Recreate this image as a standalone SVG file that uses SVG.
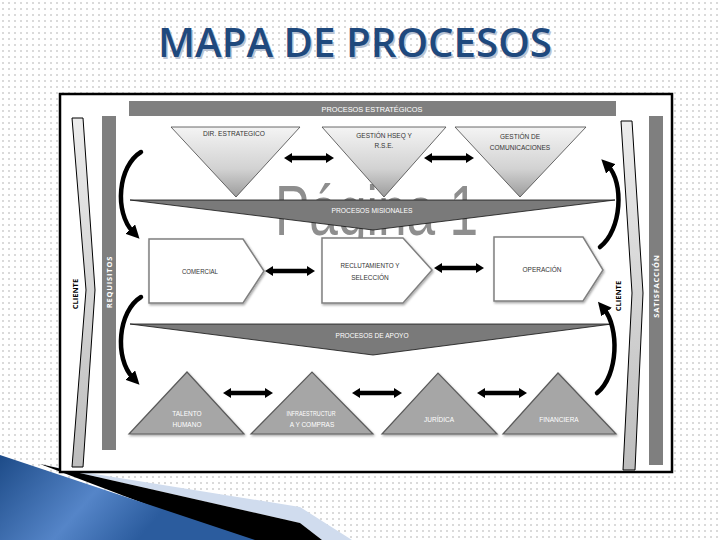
<svg xmlns="http://www.w3.org/2000/svg" width="720" height="540" viewBox="0 0 720 540">
<defs>
<pattern id="dots" width="6" height="6" patternUnits="userSpaceOnUse"><rect width="6" height="6" fill="#ffffff"/><circle cx="3" cy="3" r="0.7" fill="#9a9a9a"/></pattern>
<linearGradient id="tri" x1="0" y1="0" x2="0" y2="1"><stop offset="0" stop-color="#f4f4f4"/><stop offset="0.6" stop-color="#d2d2d2"/><stop offset="1" stop-color="#9c9c9c"/></linearGradient>
<linearGradient id="strip" x1="0" y1="0" x2="0" y2="1"><stop offset="0" stop-color="#ececec"/><stop offset="1" stop-color="#bdbdbd"/></linearGradient>
<linearGradient id="blue" gradientUnits="userSpaceOnUse" x1="0" y1="455" x2="120" y2="560"><stop offset="0" stop-color="#1d4b88"/><stop offset="0.6" stop-color="#5585c8"/><stop offset="1" stop-color="#2b5c9e"/></linearGradient>
<filter id="sh" x="-10%" y="-10%" width="130%" height="130%"><feDropShadow dx="1" dy="1.5" stdDeviation="1.2" flood-color="#000" flood-opacity="0.35"/></filter>
<path id="dbl" d="M0,5 L8,0 L8,2.8 L42,2.8 L42,0 L50,5 L42,10 L42,7.2 L8,7.2 L8,10 Z"/>
<marker id="ah" viewBox="0 0 10 10" refX="3" refY="5" markerWidth="3" markerHeight="3" orient="auto" markerUnits="strokeWidth"><path d="M0,0 L10,5 L0,10 Z" fill="#000"/></marker>
</defs>
<style>
.lbl{font-family:"Liberation Sans",Arial,sans-serif;font-size:6.5px;text-anchor:middle;}
.dk{fill:#333333;}
.wt{fill:#ffffff;}
.bar{fill:#7f7f7f;}
.band{fill:#7a7a7a;stroke:#111;stroke-width:0.8;}
.penta{fill:#ffffff;stroke:#808080;stroke-width:1.5;filter:url(#sh);}
.btri{fill:#a6a6a6;stroke:#5a5a5a;stroke-width:1.2;filter:url(#sh);}
.ttri{fill:url(#tri);stroke:#444;stroke-width:0.8;}
.strip{fill:url(#strip);stroke:#000;stroke-width:1;}
.arc{fill:none;stroke:#000;stroke-width:4.5;stroke-linecap:round;}
.vt{font-family:"Open Sans","Liberation Sans",sans-serif;font-weight:700;font-size:7.5px;text-anchor:middle;}
</style>
<rect width="720" height="540" fill="url(#dots)"/>
<g id="title">
<text x="356.5" y="58.5" font-family="'Open Sans','Liberation Sans',sans-serif" font-weight="600" font-size="40" text-anchor="middle" textLength="394" lengthAdjust="spacingAndGlyphs" fill="#b9c3d3">MAPA DE PROCESOS</text>
<text x="355" y="57" font-family="'Open Sans','Liberation Sans',sans-serif" font-weight="600" font-size="40" text-anchor="middle" textLength="394" lengthAdjust="spacingAndGlyphs" fill="#1f497d">MAPA DE PROCESOS</text>
</g>
<g id="swoosh">
<polygon points="40,464 70,470 300,507 352,540 322,540 300,523" fill="#d0dcee"/>
<polygon points="40,464 300,523 322,540 240,540" fill="#000"/>
<polygon points="0,455 255,540 0,540" fill="url(#blue)"/>
</g>
<g id="frame"><rect x="60" y="94" width="612" height="378" fill="#ffffff" stroke="#000" stroke-width="2.5"/></g>
<g id="watermark"><text x="275" y="235" font-family="'Liberation Sans',Arial,sans-serif" font-size="70" fill="#8e8e8e" textLength="203" lengthAdjust="spacingAndGlyphs">Página 1</text></g>
<g id="estrategicos-bar"><rect class="bar" x="129" y="101" width="487" height="15"/><text class="lbl wt" x="372" y="112" font-size="7.5" textLength="101" lengthAdjust="spacingAndGlyphs">PROCESOS ESTRATÉGICOS</text></g>
<g id="cliente-left"><polygon class="strip" points="72,118 83,118 95,290 83,467 72,467 86,290"/><text class="vt" fill="#000" transform="translate(77.5,294) rotate(-90)">CLIENTE</text></g>
<g id="requisitos"><rect class="bar" x="102" y="116" width="14" height="334"/><text class="vt" fill="#fff" letter-spacing="0.8" transform="translate(112,282) rotate(-90)">REQUISITOS</text></g>
<g id="cliente-right"><polygon class="strip" points="621,121 632,121 643,293 635,470 623,470 632,293"/><text class="vt" fill="#000" transform="translate(620.5,296) rotate(-90)">CLIENTE</text></g>
<g id="satisfaccion"><rect class="bar" x="649" y="116" width="14" height="349"/><text class="vt" fill="#fff" letter-spacing="0.8" transform="translate(659,286) rotate(-90)">SATISFACCIÓN</text></g>
<g id="dir-estrategico"><polygon class="ttri" points="171,127 300,127 236,197"/><text class="lbl dk" x="234" y="136" textLength="62" lengthAdjust="spacingAndGlyphs">DIR. ESTRATEGICO</text></g>
<g id="gestion-hseq"><polygon class="ttri" points="322,127 446,127 384,197"/><text class="lbl dk" x="384" y="138">GESTIÓN HSEQ Y</text><text class="lbl dk" x="384" y="148">R.S.E.</text></g>
<g id="gestion-comunicaciones"><polygon class="ttri" points="455,127 586,127 520,197"/><text class="lbl dk" x="520" y="139">GESTIÓN DE</text><text class="lbl dk" x="520" y="150">COMUNICACIONES</text></g>
<g id="misionales-band"><polygon class="band" points="130,200 615,200 373,230"/><text class="lbl wt" x="372" y="213" font-size="7.5" textLength="81" lengthAdjust="spacingAndGlyphs">PROCESOS MISIONALES</text></g>
<g id="comercial"><polygon class="penta" points="149,239 243,239 264,271 243,303 149,303"/><text class="lbl dk" x="200" y="274" textLength="36" lengthAdjust="spacingAndGlyphs">COMERCIAL</text></g>
<g id="reclutamiento"><polygon class="penta" points="322,238 403,238 432,270 403,303 322,303"/><text class="lbl dk" x="370" y="268" textLength="59" lengthAdjust="spacingAndGlyphs">RECLUTAMIENTO Y</text><text class="lbl dk" x="370" y="280">SELECCIÓN</text></g>
<g id="operacion"><polygon class="penta" points="494,237 583,237 603,270 583,301 494,301"/><text class="lbl dk" x="542" y="272" textLength="39" lengthAdjust="spacingAndGlyphs">OPERACIÓN</text></g>
<g id="apoyo-band"><polygon class="band" points="130,324 612,324 373,355"/><text class="lbl wt" x="372" y="338" font-size="7.5" textLength="73" lengthAdjust="spacingAndGlyphs">PROCESOS DE APOYO</text></g>
<g id="talento-humano"><polygon class="btri" points="129,434 187,372 244,434"/><text class="lbl wt" x="187" y="416">TALENTO</text><text class="lbl wt" x="187" y="427">HUMANO</text></g>
<g id="infraestructura"><polygon class="btri" points="251,434 312,372 373,434"/><text class="lbl wt" x="311" y="416" textLength="49" lengthAdjust="spacingAndGlyphs">INFRAESTRUCTUR</text><text class="lbl wt" x="312" y="427">A Y COMPRAS</text></g>
<g id="juridica"><polygon class="btri" points="382,434 438,373 497,434"/><text class="lbl wt" x="439" y="422">JURÍDICA</text></g>
<g id="financiera"><polygon class="btri" points="503,434 558,373 616,434"/><text class="lbl wt" x="559" y="422">FINANCIERA</text></g>
<g id="connectors">
<use href="#dbl" x="284" y="153"/>
<use href="#dbl" x="424" y="153"/>
<use href="#dbl" x="265" y="266"/>
<use href="#dbl" x="434" y="263"/>
<use href="#dbl" x="223" y="388"/>
<use href="#dbl" x="352" y="388"/>
<use href="#dbl" x="477" y="388"/>
<path class="arc" d="M141,152 C118,166 114,212 133,232" marker-end="url(#ah)"/>
<path class="arc" d="M141,297 C118,311 114,358 133,378" marker-end="url(#ah)"/>
<path class="arc" d="M600,247 C622,230 624,182 608,166" marker-end="url(#ah)"/>
<path class="arc" d="M597,393 C619,375 619,327 604,309" marker-end="url(#ah)"/>
</g>
</svg>
